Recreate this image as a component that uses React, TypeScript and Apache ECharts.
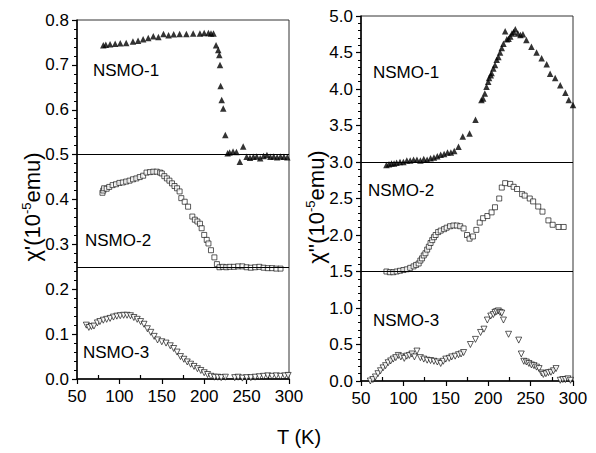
import React, { useEffect, useRef } from "react";
import * as echarts from "echarts";

// ---- data (T in K, chi in 1e-5 emu) ----
const T_MIN = 50;
const T_MAX = 300;
const T_STEP = 50;
const T_MINOR_TICKS = [75, 125, 175, 225, 275];

const LEFT_Y = { min: 0, max: 0.8, step: 0.1 };
const RIGHT_Y = { min: 0, max: 5.0, step: 0.5 };

const LEFT_SEPARATORS = [0.5, 0.25];
const RIGHT_SEPARATORS = [3.0, 1.5];

const PANEL_LABELS = ["NSMO-1", "NSMO-2", "NSMO-3"];

const chiReal1: number[][] = [
  [81, 0.744], [84, 0.745], [89, 0.746], [95, 0.747], [101, 0.748], [108, 0.749],
  [116, 0.752], [122, 0.754], [128, 0.757], [134, 0.76], [140, 0.764], [146, 0.762],
  [152, 0.769], [158, 0.766], [164, 0.768], [171, 0.769], [179, 0.769], [187, 0.77],
  [195, 0.77], [200, 0.771], [205, 0.771], [208, 0.77], [211, 0.77], [214, 0.744],
  [216.6, 0.733], [217.8, 0.722], [218.6, 0.7], [219.4, 0.653], [220.6, 0.622],
  [222.5, 0.603], [224.9, 0.544], [227.6, 0.503], [230, 0.505], [234, 0.507],
  [238, 0.506], [242, 0.484], [246, 0.518], [250, 0.495], [254, 0.493], [258, 0.495],
  [262, 0.496], [266, 0.492], [270, 0.497], [274, 0.499], [278, 0.495], [282, 0.496],
  [286, 0.494], [290, 0.496], [294, 0.495], [298, 0.494],
];

const chiReal2: number[][] = [
  [80, 0.415], [81, 0.42], [82, 0.425], [85, 0.424], [88, 0.428], [92, 0.432],
  [96, 0.434], [100, 0.437], [104, 0.438], [108, 0.44], [112, 0.442], [116, 0.445],
  [120, 0.447], [124, 0.45], [128, 0.453], [132, 0.46], [136, 0.461], [140, 0.462],
  [144, 0.462], [148, 0.46], [150, 0.458], [153, 0.452], [156, 0.447], [159, 0.442],
  [162, 0.436], [165, 0.43], [168, 0.425], [171, 0.418], [173, 0.403], [177, 0.395],
  [181, 0.384], [186, 0.362], [189, 0.355], [192, 0.351], [195, 0.346], [197, 0.336],
  [200, 0.321], [203, 0.31], [205, 0.302], [208, 0.287], [212, 0.271], [215, 0.256],
  [218, 0.249], [222, 0.25], [226, 0.249], [230, 0.25], [235, 0.25], [240, 0.251],
  [245, 0.251], [250, 0.249], [255, 0.248], [260, 0.249], [265, 0.25], [270, 0.248],
  [275, 0.247], [280, 0.247], [285, 0.246], [290, 0.246],
];

const chiReal3: number[][] = [
  [61, 0.12], [64, 0.115], [67, 0.117], [70, 0.118], [74, 0.125], [77, 0.128],
  [81, 0.131], [85, 0.133], [89, 0.135], [93, 0.138], [97, 0.14], [101, 0.141],
  [105, 0.142], [109, 0.142], [113, 0.141], [117, 0.137], [121, 0.133], [125, 0.128],
  [129, 0.122], [133, 0.112], [137, 0.104], [141, 0.095], [145, 0.087], [150, 0.083],
  [155, 0.08], [160, 0.074], [164, 0.068], [168, 0.06], [172, 0.05], [176, 0.044],
  [180, 0.038], [184, 0.033], [188, 0.028], [192, 0.023], [196, 0.019], [200, 0.014],
  [204, 0.01], [208, 0.006], [212, 0.004], [216, 0.004], [220, 0.003], [225, 0.004],
  [236, 0.003], [240, 0.004], [245, 0.002], [250, 0.003], [255, 0.003], [260, 0.004],
  [265, 0.005], [270, 0.006], [275, 0.007], [280, 0.006], [285, 0.007], [290, 0.006],
  [295, 0.007], [299, 0.008],
];

const chiImag1: number[][] = [
  [80, 2.96], [83, 2.97], [86, 2.98], [89, 2.98], [92, 2.99], [96, 3.0], [100, 3.0],
  [104, 3.02], [108, 3.02], [112, 3.03], [116, 3.03], [120, 3.02], [124, 3.04],
  [128, 3.03], [132, 3.05], [136, 3.06], [140, 3.08], [144, 3.1], [148, 3.11],
  [152, 3.13], [156, 3.13], [160, 3.15], [165, 3.21], [170, 3.35], [178, 3.39],
  [185, 3.58], [192, 3.85], [194, 3.87], [196, 3.94], [198, 4.03], [200, 4.1],
  [201, 4.15], [203, 4.19], [204, 4.22], [206, 4.28], [208, 4.33], [210, 4.4],
  [212, 4.44], [214, 4.5], [216, 4.56], [218, 4.62], [220, 4.79], [222, 4.68],
  [224, 4.69], [226, 4.72], [228, 4.76], [230, 4.78], [232, 4.82], [235, 4.76],
  [238, 4.74], [241, 4.75], [245, 4.67], [251, 4.58], [257, 4.5], [263, 4.42],
  [269, 4.34], [273, 4.21], [279, 4.15], [285, 4.05], [291, 3.95], [295, 3.85],
  [300, 3.78],
];

const chiImag2: number[][] = [
  [80, 1.5], [84, 1.49], [88, 1.49], [92, 1.5], [96, 1.51], [100, 1.52], [104, 1.53],
  [108, 1.55], [112, 1.57], [115, 1.59], [118, 1.61], [120, 1.65], [122, 1.68],
  [124, 1.72], [126, 1.75], [128, 1.8], [130, 1.84], [132, 1.89], [134, 1.93],
  [136, 1.97], [138, 2.0], [141, 2.04], [144, 2.06], [148, 2.08], [151, 2.1],
  [155, 2.12], [159, 2.13], [163, 2.13], [167, 2.12], [171, 2.09], [175, 2.0],
  [178, 1.95], [182, 1.98], [186, 2.07], [190, 2.17], [194, 2.23], [199, 2.26],
  [204, 2.31], [208, 2.38], [213, 2.5], [216, 2.65], [220, 2.71], [226, 2.7],
  [230, 2.66], [234, 2.63], [240, 2.56], [243, 2.54], [249, 2.5], [253, 2.46],
  [259, 2.39], [264, 2.32], [271, 2.2], [276, 2.14], [283, 2.11], [289, 2.11],
];

const chiImag3: number[][] = [
  [61, 0.0], [64, 0.02], [67, 0.055], [70, 0.1], [73, 0.14], [76, 0.18], [79, 0.21],
  [82, 0.25], [85, 0.275], [88, 0.3], [91, 0.32], [94, 0.35], [97, 0.33], [101, 0.31],
  [104, 0.34], [107, 0.35], [110, 0.37], [113, 0.33], [116, 0.41], [120, 0.32],
  [124, 0.3], [128, 0.285], [132, 0.28], [136, 0.27], [140, 0.26], [144, 0.24],
  [147, 0.27], [150, 0.3], [154, 0.31], [157, 0.33], [161, 0.34], [165, 0.36],
  [168, 0.37], [171, 0.39], [179, 0.5], [185, 0.57], [191, 0.665], [195, 0.71],
  [199, 0.835], [203, 0.89], [206, 0.91], [208, 0.94], [210, 0.95], [212, 0.96],
  [214, 0.94], [216, 0.93], [218, 0.835], [224, 0.64], [236, 0.56], [239, 0.37],
  [242, 0.27], [245, 0.26], [248, 0.24], [251, 0.22], [254, 0.21], [257, 0.19],
  [260, 0.17], [263, 0.11], [265, 0.09], [268, 0.1], [271, 0.115], [274, 0.12],
  [277, 0.14], [280, 0.17], [285, 0.01], [288, 0.02], [291, 0.02], [294, 0.03],
  [297, 0.01],
];

const FONT = "'Liberation Sans', Arial, sans-serif";

function App() {
  const ref = useRef<HTMLDivElement>(null);

  useEffect(() => {
    if (!ref.current) return;
    const chart = echarts.init(ref.current, null, { renderer: "svg" });

    const xAxisBase = (gridIndex: number) => ({
      type: "value",
      gridIndex,
      min: T_MIN,
      max: T_MAX,
      interval: T_STEP,
      axisLine: { show: true, lineStyle: { color: "#000", width: 1.5 } },
      axisTick: { show: true, length: 5, lineStyle: { color: "#000", width: 1.2 } },
      splitLine: { show: false },
      axisLabel: { color: "#000", fontSize: 17, fontFamily: FONT, margin: 9 },
    });

    // companion axis that draws only the inward minor ticks at the half steps
    const xAxisMinor = (gridIndex: number) => ({
      type: "value",
      gridIndex,
      position: "bottom",
      min: T_MIN,
      max: T_MAX,
      interval: T_STEP,
      axisLine: { show: false },
      axisTick: {
        show: true,
        inside: true,
        length: 4,
        customValues: T_MINOR_TICKS,
        lineStyle: { color: "#000", width: 1.2 },
      },
      splitLine: { show: false },
      axisLabel: { show: false },
    });

    const yAxisBase = (gridIndex: number, y: { min: number; max: number; step: number }) => ({
      type: "value",
      gridIndex,
      min: y.min,
      max: y.max,
      interval: y.step,
      axisLine: { show: true, lineStyle: { color: "#000", width: 1.5 } },
      axisTick: { show: true, length: 5, lineStyle: { color: "#000", width: 1.2 } },
      minorTick: { show: true, splitNumber: 5, length: 3, lineStyle: { color: "#000" } },
      splitLine: { show: false },
      axisLabel: {
        color: "#000",
        fontSize: 17,
        fontFamily: FONT,
        margin: 8,
        formatter: (v: number) => v.toFixed(1),
      },
    });

    const sep = (vals: number[]) => ({
      silent: true,
      symbol: "none",
      label: { show: false },
      lineStyle: { color: "#000", width: 1, type: "solid" },
      data: vals.map((v) => ({ yAxis: v })),
    });

    const filledTri = { symbol: "triangle", symbolSize: 6.5, itemStyle: { color: "#000" } };
    const openSq = {
      symbol: "rect",
      symbolSize: 5,
      itemStyle: { color: "#fff", borderColor: "#000", borderWidth: 0.8 },
    };
    const openDown = {
      symbol: "triangle",
      symbolSize: 6,
      symbolRotate: 180,
      itemStyle: { color: "#fff", borderColor: "#000", borderWidth: 0.8 },
    };

    const scatter = (data: number[][], idx: number, style: any, extra: any = {}) => ({
      type: "scatter",
      xAxisIndex: idx,
      yAxisIndex: idx,
      data,
      ...style,
      ...extra,
    });

    const nameRich = {
      a: { fontSize: 22, fontFamily: FONT, color: "#000" },
      s: { fontSize: 13, fontFamily: FONT, color: "#000", padding: [0, 0, 11, 0] },
    };

    const panelText = (x: number, y: number, text: string) => ({
      type: "text",
      left: x,
      top: y,
      style: { text, fontSize: 17, fontFamily: FONT, fill: "#000" },
    });

    chart.setOption({
      animation: false,
      backgroundColor: "#fff",
      grid: [
        { left: 77, right: 307, top: 20, bottom: 74, show: true, borderColor: "#333", borderWidth: 1 },
        { left: 361, right: 23, top: 16, bottom: 72, show: true, borderColor: "#333", borderWidth: 1 },
      ],
      xAxis: [xAxisBase(0), xAxisBase(1), xAxisMinor(0), xAxisMinor(1)],
      yAxis: [yAxisBase(0, LEFT_Y), yAxisBase(1, RIGHT_Y)],
      series: [
        scatter(chiReal1, 0, filledTri, { markLine: sep(LEFT_SEPARATORS) }),
        scatter(chiReal2, 0, openSq),
        scatter(chiReal3, 0, openDown),
        scatter(chiImag1, 1, filledTri, { markLine: sep(RIGHT_SEPARATORS) }),
        scatter(chiImag2, 1, openSq),
        scatter(chiImag3, 1, openDown),
      ],
      graphic: [
        panelText(93, 62, PANEL_LABELS[0]),
        panelText(85, 232, PANEL_LABELS[1]),
        panelText(83, 344, PANEL_LABELS[2]),
        panelText(373, 64, PANEL_LABELS[0]),
        panelText(368, 182, PANEL_LABELS[1]),
        panelText(373, 312, PANEL_LABELS[2]),
        {
          type: "text",
          x: 32,
          y: 207,
          rotation: Math.PI / 2,
          style: {
            text: "{a|χ'(10}{s|-5}{a|emu)}",
            rich: nameRich,
            align: "center",
            verticalAlign: "middle",
          },
        },
        {
          type: "text",
          x: 316,
          y: 207,
          rotation: Math.PI / 2,
          style: {
            text: "{a|χ''(10}{s|-5}{a|emu)}",
            rich: nameRich,
            align: "center",
            verticalAlign: "middle",
          },
        },
        {
          type: "text",
          x: 299,
          y: 437,
          style: {
            text: "T (K)",
            fontSize: 20,
            fontFamily: FONT,
            fill: "#000",
            align: "center",
            verticalAlign: "middle",
          },
        },
      ],
    });

    return () => chart.dispose();
  }, []);

  return (
    <div
      ref={ref}
      style={{ position: "fixed", left: 0, top: 0, width: 596, height: 453, background: "#fff" }}
    />
  );
}

export default App;
